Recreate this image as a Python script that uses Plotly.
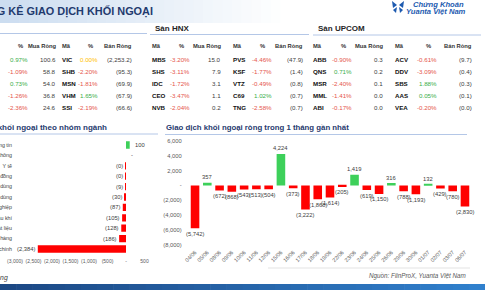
import plotly.graph_objects as go

W, H = 485, 290
FONT = "Liberation Sans, Arial, sans-serif"

# ---------------- data ----------------
hose_buy_pct = [0.97, -1.09, 0.73, -1.26, -2.36]
hose_buy_val = [100.6, 58.8, 54.0, 36.8, 24.6]
hose_sell_code = ["VIC", "SHB", "MSN", "VHM", "SSI"]
hose_sell_pct = [0.00, -2.20, -1.81, 1.65, -2.19]
hose_sell_val = [2253.2, 95.3, 69.9, 67.9, 66.6]

hnx_buy_code = ["MBS", "SHS", "IDC", "CEO", "NVB"]
hnx_buy_pct = [-3.20, -3.11, -1.72, -3.47, -2.04]
hnx_buy_val = [15.0, 7.9, 3.1, 1.1, 0.2]
hnx_sell_code = ["PVS", "KSF", "VTZ", "C69", "TNG"]
hnx_sell_pct = [-4.46, -1.77, -0.49, 1.02, -2.58]
hnx_sell_val = [47.9, 1.4, 0.8, 0.7, 0.7]

upcom_buy_code = ["ABB", "QNS", "MSR", "MML", "ABI"]
upcom_buy_pct = [-0.90, 0.71, -2.40, -1.41, -0.17]
upcom_buy_val = [0.3, 0.2, 0.1, 0.0, 0.0]
upcom_sell_code = ["ACV", "DDV", "SBS", "AAS", "VEA"]
upcom_sell_pct = [-0.61, -3.09, 1.88, 0.05, -0.20]
upcom_sell_val = [9.7, 0.4, 0.3, 0.1, 0.0]

sectors = ["Công nghệ Thông tin", "Viễn thông", "Y tế", "Tiện ích Cộng đồng",
           "Hàng Tiêu dùng", "Dịch vụ Tiêu dùng", "Công nghiệp", "Dầu khí",
           "Nguyên vật liệu", "Ngân hàng", "Tài chính"]
sector_net = [100, 0, -0.3, -0.4, -9, -30, -87, -105, -128, -186, -2384]
sector_ticks = [-3000, -2500, -2000, -1500, -1000, -500, 0, 500]

dates = ["04/06", "05/06", "08/06", "09/06", "10/06", "11/06", "12/06", "15/06",
         "16/06", "17/06", "18/06", "19/06", "22/06", "23/06", "24/06", "25/06",
         "26/06", "29/06", "30/06", "01/07", "02/07", "03/07", "06/07"]
daily_net = [-5742, 357, -672, -868, -543, -513, -504, 4224, -373, -3222, -1868,
             -1614, -205, 1419, -619, -1150, 316, -788, -1193, 132, -429, -780, -2830]
daily_ticks = [-8000, -6000, -4000, -2000, 0, 2000, 4000, 6000]

# ---------------- helpers ----------------
RED = "#FF0000"
GREEN = "#3DD05A"
TXT = "#404040"


def fmt_int(v):
    r = int(round(abs(v)))
    if v == 0:
        return "-"
    s = f"{r:,}"
    return f"({s})" if v < 0 else s


def fmt_pct(v):
    return f"{v:.2f}%"


def pct_color(v):
    if v > 0:
        return "#3AAE4A"
    if v < 0:
        return "#E5554B"
    return "#FFC000"


anns = []
shapes = []


def txt(x, y, s, size=6.2, color=TXT, anchor="left", weight="normal", style="normal", yanchor="middle"):
    anns.append(dict(x=x / W, y=1 - y / H, xref="paper", yref="paper", text=s,
                     showarrow=False, xanchor=anchor, yanchor=yanchor,
                     borderpad=0, borderwidth=0,
                     font=dict(family=FONT, size=size, color=color, weight=weight, style=style)))


def hline(x0, x1, y, color="#B4C7E7", width=1):
    shapes.append(dict(type="line", xref="paper", yref="paper", x0=x0 / W, x1=x1 / W,
                       y0=1 - y / H, y1=1 - y / H, line=dict(color=color, width=width)))


def grad(x0, x1, y0, y1, c0, c1, n=30):
    for i in range(n):
        t = i / (n - 1)
        c = tuple(int(round(a + (b - a) * t)) for a, b in zip(c0, c1))
        xa = x0 + (x1 - x0) * i / n
        xb = x0 + (x1 - x0) * (i + 1) / n + 0.6
        shapes.append(dict(type="rect", xref="paper", yref="paper", layer="below",
                           x0=xa / W, x1=xb / W, y0=1 - y1 / H, y1=1 - y0 / H,
                           fillcolor=f"rgb{c}", line=dict(width=0)))


# ---------------- decoration ----------------
grad(0, 290, 0, 23, (204, 221, 240), (255, 255, 255))
grad(0, 485, 284, 290, (28, 72, 132), (48, 128, 205))
txt(153, 11, "THỐNG KÊ GIAO DỊCH KHỐI NGOẠI", size=10.9, color="#1F3A6E", anchor="right", weight="bold")

# logo
for path in ["M 392 1 L 397 5 L 393 8 Z", "M 404 1 L 399 5 L 403 8 Z",
             "M 393 10 L 397 7 L 396 13 Z", "M 403 10 L 399 7 L 400 13 Z"]:
    pts = path.replace("M", "").replace("Z", "").split("L")
    sp = "M " + " L ".join(f"{float(p.split()[0]) / W} {1 - float(p.split()[1]) / H}" for p in pts) + " Z"
    shapes.append(dict(type="path", xref="paper", yref="paper", path=sp,
                       fillcolor="#1E5BB0", line=dict(width=0)))
txt(413, 4.2, "Chứng Khoán", size=7.6, color="#1E5BB0", weight="bold", style="italic")
txt(406, 12, "Yuanta Việt Nam", size=7.6, color="#1E5BB0", weight="bold", style="italic")

# section titles + rules
txt(155, 29, "Sàn HNX", size=8, color="#262626", weight="bold")
txt(318, 29, "Sàn UPCOM", size=8, color="#262626", weight="bold")
hline(0, 147, 33.5)
hline(150, 309, 34.5)
hline(313, 481, 35)

# ---------------- tables ----------------
HEAD_Y = 46
ROW_Y = [59.5, 71.5, 83.5, 95.5, 107.5]


def column(header, hx, hanchor, x, anchor, texts, colors, weight="normal"):
    txt(hx, HEAD_Y, header, size=5.8, color="#333333", anchor=hanchor, weight="bold")
    for y, t, c in zip(ROW_Y, texts, colors):
        txt(x, y, t, size=6.2, color=c, anchor=anchor, weight=weight)


def pct_col(hx, x, vals):
    column("%", hx, "center", x, "right", [fmt_pct(v) for v in vals], [pct_color(v) for v in vals])


def val_col(header, x, vals, paren):
    texts = [f"({v:,.1f})" if paren else f"{v:,.1f}" for v in vals]
    column(header, x, "right", x, "right", texts, [TXT] * len(vals))


def code_col(x, codes):
    column("Mã", x, "left", x, "left", codes, ["#111111"] * len(codes), weight="bold")


# HOSE (left part cut off)
pct_col(20, 28, hose_buy_pct)
val_col("Mua Ròng", 56, hose_buy_val, False)
code_col(62, hose_sell_code)
pct_col(90, 98, hose_sell_pct)
val_col("Bán Ròng", 132, hose_sell_val, True)

# HNX
code_col(152, hnx_buy_code)
pct_col(181, 190, hnx_buy_pct)
val_col("Mua Ròng", 221, hnx_buy_val, False)
code_col(233, hnx_sell_code)
pct_col(262, 272, hnx_sell_pct)
val_col("Bán Ròng", 303, hnx_sell_val, True)

# UPCOM
code_col(313, upcom_buy_code)
pct_col(343, 352, upcom_buy_pct)
val_col("Mua Ròng", 383, upcom_buy_val, False)
code_col(395, upcom_sell_code)
pct_col(428, 437, upcom_sell_pct)
val_col("Bán Ròng", 472, upcom_sell_val, True)

# ---------------- chart titles ----------------
txt(107, 127, "Giao dịch khối ngoại theo nhóm ngành", size=8, color="#1F3A6E", anchor="right", weight="bold")
hline(0, 158, 134)
txt(166, 127, "Giao dịch khối ngoại ròng trong 1 tháng gần nhất", size=7.8, color="#1F3A6E", weight="bold")
hline(165, 467, 134.5)

hline(268, 470, 268, color="#E3E3E3")
txt(466, 275.5, "Nguồn: FiinProX, Yuanta Việt Nam", size=6.3, color="#595959", anchor="right", style="italic")
txt(8, 277, "Đơn vị: tỷ đồng", size=6.8, color="#404040", anchor="right", style="italic")

# ---------------- charts ----------------
fig = go.Figure()

fig.add_trace(go.Bar(
    x=sector_net, y=sectors, orientation="h", width=0.7,
    marker=dict(color=[GREEN if v > 0 else RED for v in sector_net], line=dict(width=0)),
    xaxis="x", yaxis="y", hoverinfo="skip"))

for s, v in zip(sectors, sector_net):
    anns.append(dict(x=v, xref="x", y=s, yref="y", text=fmt_int(v), showarrow=False,
                     xanchor="right" if v < 0 else "left", xshift=-1.5 if v < 0 else 4,
                     yanchor="middle", borderpad=0,
                     font=dict(family=FONT, size=5.8, color=TXT)))

fig.add_trace(go.Bar(
    x=dates, y=daily_net, width=0.7,
    marker=dict(color=[GREEN if v > 0 else RED for v in daily_net], line=dict(width=0)),
    xaxis="x2", yaxis="y2", hoverinfo="skip"))

for d, v in zip(dates, daily_net):
    anns.append(dict(x=d, xref="x2", y=v, yref="y2", text=fmt_int(v), showarrow=False,
                     xanchor="center", yanchor="bottom" if v > 0 else "top",
                     yshift=1.5 if v > 0 else -1.5, borderpad=0,
                     font=dict(family=FONT, size=5.8, color=TXT)))

axis_common = dict(showgrid=False, zeroline=False, showline=False, fixedrange=True,
                   automargin=False)

fig.update_layout(
    width=W, height=H, margin=dict(l=0, r=0, t=0, b=0, autoexpand=False),
    paper_bgcolor="white", plot_bgcolor="rgba(0,0,0,0)", showlegend=False,
    bargap=0.3,
    xaxis=dict(domain=[15 / W, 144.5 / W], range=[-3000, 500], tickvals=sector_ticks,
               ticktext=[fmt_int(v) for v in sector_ticks], ticks="outside", ticklen=2,
               tickcolor="rgba(0,0,0,0)", anchor="y", tickangle=0,
               tickfont=dict(family=FONT, size=5, color="#595959"), **axis_common),
    yaxis=dict(domain=[1 - 254.2 / H, 1 - 139.8 / H], type="category",
               categoryorder="array", categoryarray=sectors, range=[10.5, -0.5],
               ticks="outside", ticklen=1, tickcolor="rgba(0,0,0,0)",
               tickfont=dict(family=FONT, size=5.3, color=TXT), anchor="x", **axis_common),
    xaxis2=dict(domain=[188.9 / W, 471.1 / W], type="category", range=[-0.5, 22.5],
                tickangle=-45, ticks="outside", ticklen=1, tickcolor="rgba(0,0,0,0)",
                anchor="y2", tickfont=dict(family=FONT, size=5.5, color="#595959"),
                **axis_common),
    yaxis2=dict(domain=[1 - 245 / H, 1 - 140.7 / H], range=[-8000, 6000],
                tickvals=daily_ticks, ticktext=[fmt_int(v) for v in daily_ticks],
                ticks="outside", ticklen=5, tickcolor="rgba(0,0,0,0)", anchor="x2",
                tickfont=dict(family=FONT, size=5.8, color="#595959"), **axis_common),
    annotations=anns, shapes=shapes,
)

fig.write_html("out.html")
